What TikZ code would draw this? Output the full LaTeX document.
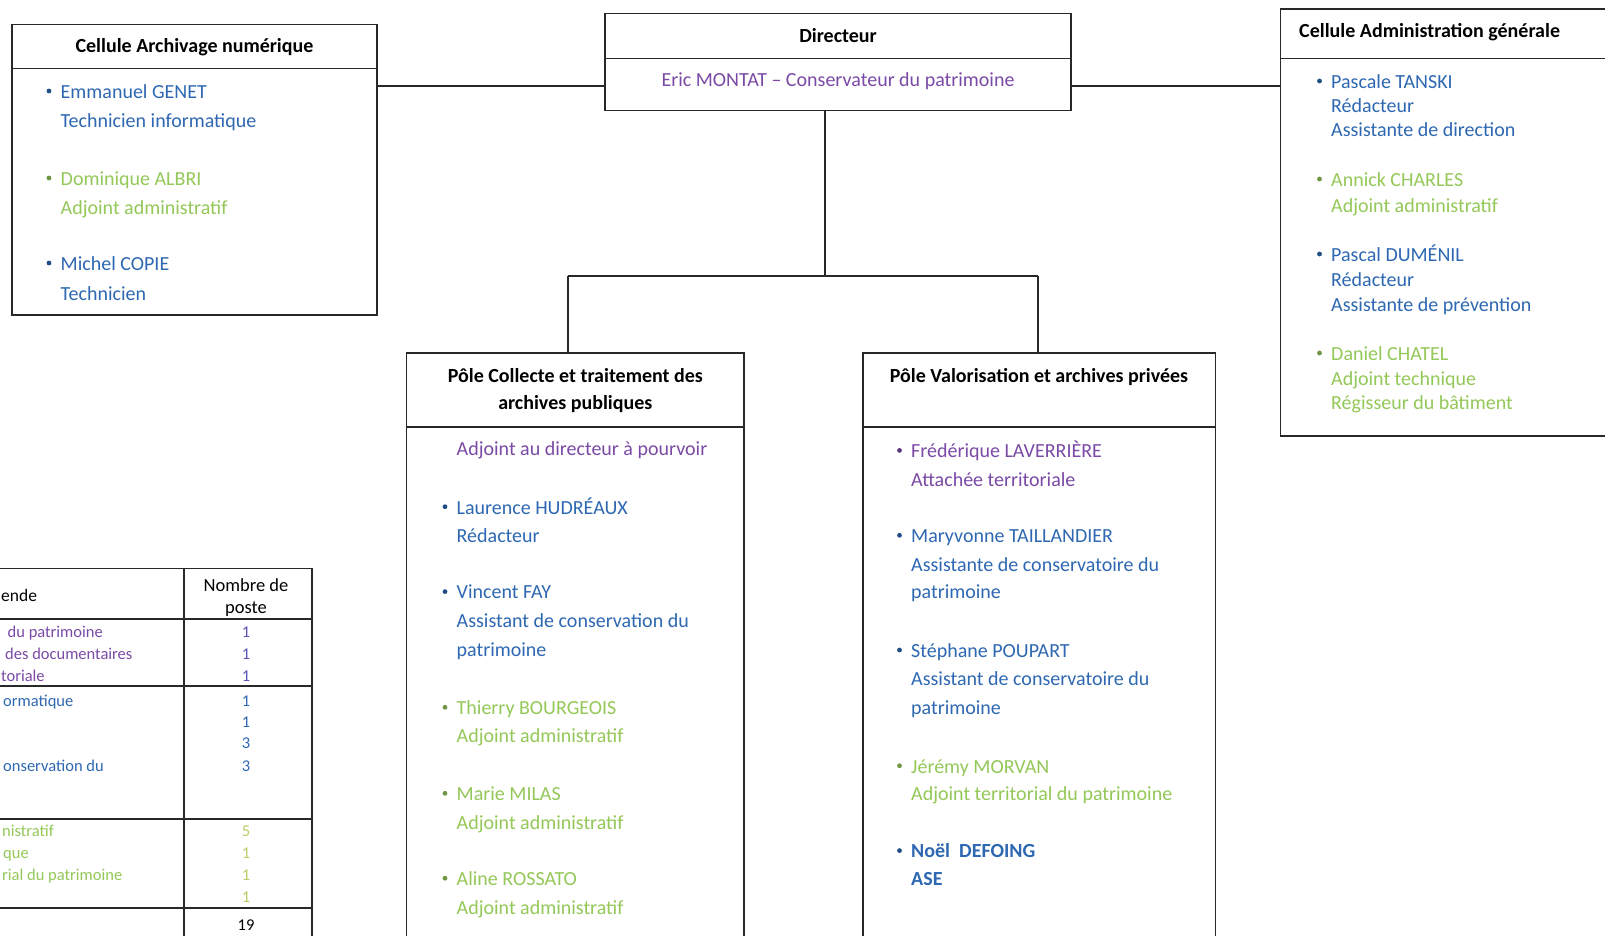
\documentclass[tikz,border=0pt]{standalone}
\usepackage{fontspec}
\setmainfont{Carlito}
\definecolor{pur}{RGB}{122,74,166}
\definecolor{blu}{RGB}{46,104,178}
\definecolor{grn}{RGB}{148,200,88}
\definecolor{numpur}{RGB}{92,84,184}
\definecolor{numgrn}{RGB}{186,204,100}
\definecolor{frame}{RGB}{40,40,40}
\newcommand\bl[5]{\fill[#4!75!black] (#2-11.5,#3) circle (2.4);
  \node[tx,text=#4] (#1) at (#2,#3) {#5};}
\newcommand\tl[5]{\node[tx,text=#4] (#1) at (#2,#3) {#5};}
\begin{document}
\begin{tikzpicture}[x=1pt,y=-1pt,
  boxst/.style={draw=frame,line width=1.2pt,inner sep=0,fill=none},
  ln/.style={draw=frame,line width=1.2pt},
  hd/.style={font=\bfseries\fontsize{20}{24}\selectfont,inner sep=0,anchor=mid,text=black,yshift=-5pt},
  tx/.style={font=\fontsize{20}{24}\selectfont,inner sep=0,anchor=mid west,yshift=-5pt},
  tb/.style={font=\fontsize{16.5}{20}\selectfont,inner sep=0,anchor=mid west,yshift=-4pt},
  tn/.style={font=\fontsize{16.5}{20}\selectfont,inner sep=0,anchor=mid,yshift=-4pt}]
\clip (0,0) rectangle (1605,936);
\fill[white] (0,0) rectangle (1605,936);

% ---- boxes ----
\node[boxst,minimum width=365pt,minimum height=290.5pt] (arch) at (194.5,169.75) {};
\node[boxst,minimum width=466pt,minimum height=97pt] (dir) at (838,62) {};
\node[boxst,minimum width=360pt,minimum height=427pt] (adm) at (1460.5,222.5) {};
\node[boxst,minimum width=337.5pt,minimum height=627pt] (col) at (575.25,666.5) {};
\node[boxst,minimum width=352.5pt,minimum height=627pt] (val) at (1039.25,666.5) {};
\node[boxst,minimum width=512pt,minimum height=411.5pt] (tab) at (56,774.25) {};

% header separators
\draw[ln] (arch.west |- 0,68.6) -- (arch.east |- 0,68.6);
\draw[ln] (dir.west |- 0,58.3) -- (dir.east |- 0,58.3);
\draw[ln] (adm.west |- 0,58.3) -- (adm.east |- 0,58.3);
\draw[ln] (col.west |- 0,427) -- (col.east |- 0,427);
\draw[ln] (val.west |- 0,427) -- (val.east |- 0,427);

% ---- connectors ----
\coordinate (cy) at (0,86);
\coordinate (jm) at (825,276);
\coordinate (jl) at (568,276);
\coordinate (jr) at (1038,276);
\draw[ln] (arch.east |- cy) -- (dir.west |- cy);
\draw[ln] (dir.east |- cy) -- (adm.west |- cy);
\draw[ln] (dir.south -| jm) -- (jm);
\draw[ln] (jl) -- (jr);
\draw[ln] (jl) -- (jl |- col.north);
\draw[ln] (jr) -- (jr |- val.north);

% ---- Archivage ----
\node[hd] (archh) at (194.5,45) {Cellule Archivage numérique};
\bl{a1}{60.5}{91}{blu}{Emmanuel GENET}
\tl{a2}{60.5}{119.8}{blu}{Technicien informatique}
\bl{a3}{60.5}{178}{grn}{Dominique ALBRI}
\tl{a4}{60.5}{206.8}{grn}{Adjoint administratif}
\bl{a5}{60.5}{263}{blu}{Michel COPIE}
\tl{a6}{60.5}{292.8}{blu}{Technicien}

% ---- Directeur ----
\node[hd] (dirh) at (838,35) {Directeur};
\node[tx,anchor=mid,text=pur] (dirn) at (838,79) {Eric MONTAT -- Conservateur du patrimoine};

% ---- Administration ----
\node[hd,anchor=mid west] (admh) at (1299,30) {Cellule Administration générale};
\bl{d1}{1331}{81}{blu}{Pascale TANSKI}
\tl{d2}{1331}{105.4}{blu}{Rédacteur}
\tl{d3}{1331}{129}{blu}{Assistante de direction}
\bl{d4}{1331}{179}{grn}{Annick CHARLES}
\tl{d5}{1331}{204.7}{grn}{Adjoint administratif}
\bl{d6}{1331}{254}{blu}{Pascal DUMÉNIL}
\tl{d7}{1331}{279.4}{blu}{Rédacteur}
\tl{d8}{1331}{304}{blu}{Assistante de prévention}
\bl{d9}{1331}{353}{grn}{Daniel CHATEL}
\tl{d10}{1331}{377.7}{grn}{Adjoint technique}
\tl{d11}{1331}{402.3}{grn}{Régisseur du bâtiment}

% ---- Pôle Collecte ----
\node[hd] (colh1) at (575.3,375) {Pôle Collecte et traitement des};
\node[hd] (colh2) at (575.3,402.5) {archives publiques};
\tl{c0}{456.5}{448.3}{pur}{Adjoint au directeur à pourvoir}
\bl{c1}{456.5}{506.7}{blu}{Laurence HUDRÉAUX}
\tl{c2}{456.5}{535.3}{blu}{Rédacteur}
\bl{c3}{456.5}{591.6}{blu}{Vincent FAY}
\tl{c4}{456.5}{620.3}{blu}{Assistant de conservation du}
\tl{c5}{456.5}{649}{blu}{patrimoine}
\bl{c6}{456.5}{707.3}{grn}{Thierry BOURGEOIS}
\tl{c7}{456.5}{735}{grn}{Adjoint administratif}
\bl{c8}{456.5}{793.3}{grn}{Marie MILAS}
\tl{c9}{456.5}{822}{grn}{Adjoint administratif}
\bl{c10}{456.5}{878.2}{grn}{Aline ROSSATO}
\tl{c11}{456.5}{906.9}{grn}{Adjoint administratif}

% ---- Pôle Valorisation ----
\node[hd] (valh) at (1039,375) {Pôle Valorisation et archives privées};
\bl{v1}{911}{450.4}{pur}{Frédérique LAVERRIÈRE}
\tl{v2}{911}{479}{pur}{Attachée territoriale}
\bl{v3}{911}{535.3}{blu}{Maryvonne TAILLANDIER}
\tl{v4}{911}{564}{blu}{Assistante de conservatoire du}
\tl{v5}{911}{591.6}{blu}{patrimoine}
\bl{v6}{911}{650}{blu}{Stéphane POUPART}
\tl{v7}{911}{678.6}{blu}{Assistant de conservatoire du}
\tl{v8}{911}{707.3}{blu}{patrimoine}
\bl{v9}{911}{765.7}{grn}{Jérémy MORVAN}
\tl{v10}{911}{793.3}{grn}{Adjoint territorial du patrimoine}
\bl{v11}{911}{850.6}{blu}{\bfseries Noël\ \ DEFOING}
\tl{v12}{911}{878.2}{blu}{\bfseries ASE}

% ---- Table ----
\draw[ln] (tab.north -| 184,0) -- (tab.south -| 184,0);
\draw[ln] (tab.west |- 0,619) -- (tab.east |- 0,619);
\draw[ln] (tab.west |- 0,686) -- (tab.east |- 0,686);
\draw[ln] (tab.west |- 0,819) -- (tab.east |- 0,819);
\draw[ln] (tab.west |- 0,908) -- (tab.east |- 0,908);
\node[tb,font=\fontsize{17.5}{20}\selectfont] (t0) at (1,595) {ende};
\node[tn,font=\fontsize{18.5}{20}\selectfont] (th1) at (246,585) {Nombre de};
\node[tn,font=\fontsize{18.5}{20}\selectfont] (th2) at (246,607) {poste};
\node[tb,text=pur] (t1) at (7.5,631) {du patrimoine};
\node[tb,text=pur] (t2) at (5,653) {des documentaires};
\node[tb,text=pur] (t3) at (1,675) {toriale};
\node[tb,text=blu] (t4) at (3,700) {ormatique};
\node[tb,text=blu] (t5) at (3,765) {onservation du};
\node[tb,text=grn] (t6) at (2,830) {nistratif};
\node[tb,text=grn] (t7) at (3,852) {que};
\node[tb,text=grn] (t8) at (2,874) {rial du patrimoine};
\node[tn,text=numpur] (n1) at (246,631) {1};
\node[tn,text=numpur] (n2) at (246,653) {1};
\node[tn,text=numpur] (n3) at (246,675) {1};
\node[tn,text=blu] (n4) at (246,700) {1};
\node[tn,text=blu] (n5) at (246,721) {1};
\node[tn,text=blu] (n6) at (246,742) {3};
\node[tn,text=blu] (n7) at (246,765) {3};
\node[tn,text=numgrn] (n8) at (246,830) {5};
\node[tn,text=numgrn] (n9) at (246,852) {1};
\node[tn,text=numgrn] (n10) at (246,874) {1};
\node[tn,text=numgrn] (n11) at (246,896) {1};
\node[tn] (n12) at (246,924) {19};
\end{tikzpicture}
\end{document}
